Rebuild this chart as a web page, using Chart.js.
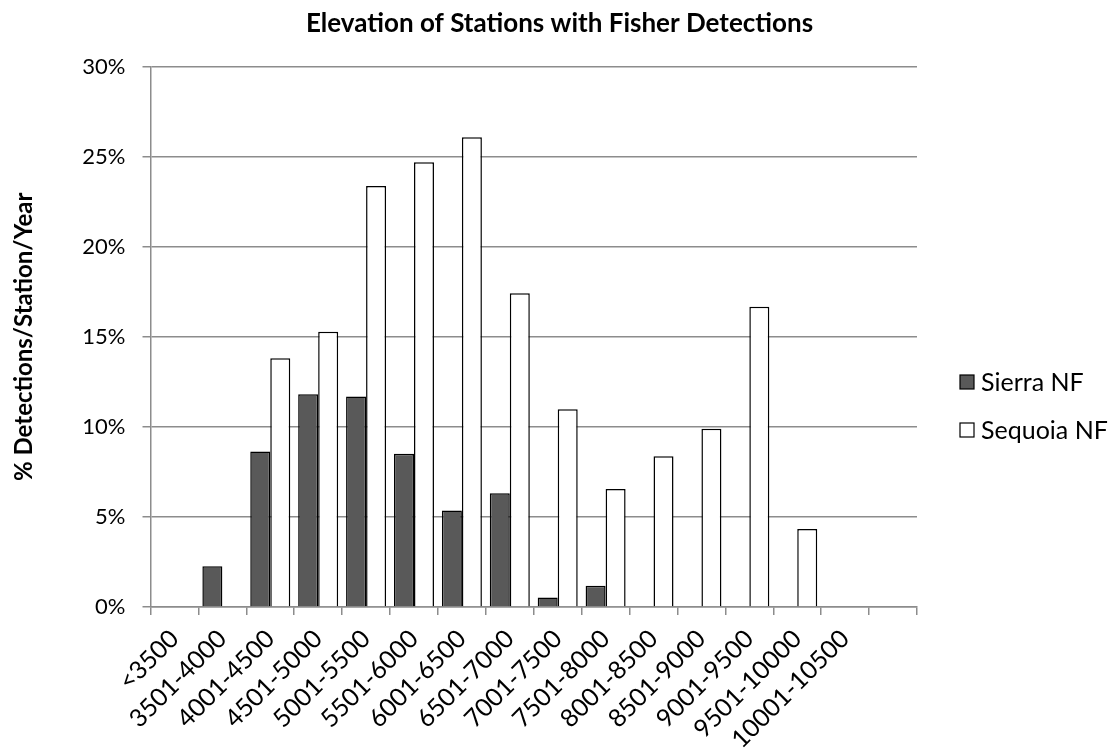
<!DOCTYPE html>
<html>
<head>
<meta charset="utf-8">
<title>Elevation of Stations with Fisher Detections</title>
<script src="https://cdn.jsdelivr.net/npm/chart.js@4.4.1/dist/chart.umd.min.js"></script>
<style>
  html, body { margin: 0; padding: 0; background: #ffffff; }
  #wrap { width: 1117px; height: 752px; position: relative; }
</style>
</head>
<body>
<div id="wrap"><canvas id="chart"></canvas></div>
<script>
// Elevation bands (feet); the final slot is an empty band at the right end of the axis
const elevationBands = [
  '<3500', '3501-4000', '4001-4500', '4501-5000', '5001-5500', '5501-6000',
  '6001-6500', '6501-7000', '7001-7500', '7501-8000', '8001-8500', '8501-9000',
  '9001-9500', '9501-10000', '10001-10500', ''
];

// % detections / station / year
const sierraNF  = [null, 2.26, 8.63, 11.81, 11.68, 8.50, 5.35, 6.31, 0.53, 1.18, null, null, null, null, null, null];
const sequoiaNF = [null, null, 13.80, 15.28, 23.37, 24.68, 26.07, 17.42, 10.98, 6.55, 8.37, 9.89, 16.67, 4.33, null, null];

const seriesNames = ['Sierra NF', 'Sequoia NF'];
const yTickValues = [0, 5, 10, 15, 20, 25, 30];

const chartTitle = 'Elevation of Stations with Fisher Detections';
const yAxisTitle = '% Detections/Station/Year';

const FONT = 'Lato, "Liberation Sans", sans-serif';
const GRID = '#8c8c8c';

// Title centred over the whole canvas, legend to the right of the plot
const decorations = {
  id: 'decorations',
  afterDraw(chart) {
    const { ctx, chartArea } = chart;
    ctx.save();
    ctx.fillStyle = '#000';
    ctx.font = 'bold 26px ' + FONT;
    ctx.textAlign = 'center';
    ctx.textBaseline = 'middle';
    ctx.fillText(chartTitle, chart.width / 2 + 1, 24);

    ctx.font = '25px ' + FONT;
    ctx.textAlign = 'left';
    const x0 = chartArea.right + 43;
    const rows = [382, 430];
    chart.data.datasets.forEach((ds, i) => {
      const y = rows[i];
      ctx.fillStyle = ds.backgroundColor;
      ctx.fillRect(x0, y - 7, 14, 14);
      ctx.lineWidth = 1.2;
      ctx.strokeStyle = '#000';
      ctx.strokeRect(x0, y - 7, 14, 14);
      ctx.fillStyle = '#000';
      ctx.fillText(ds.label, x0 + 21, y + 1);
    });
    ctx.restore();
  }
};

new Chart(document.getElementById('chart'), {
  type: 'bar',
  data: {
    labels: elevationBands,
    datasets: [
      { label: seriesNames[0], data: sierraNF,  backgroundColor: '#595959', borderColor: '#000', borderWidth: 1.5 },
      { label: seriesNames[1], data: sequoiaNF, backgroundColor: '#ffffff', borderColor: '#000', borderWidth: 1.5 }
    ]
  },
  options: {
    responsive: true,
    maintainAspectRatio: false,
    animation: false,
    layout: { padding: { top: 66.5, right: 200, left: 0, bottom: 0 } },
    datasets: { bar: { categoryPercentage: 0.835, barPercentage: 1.0 } },
    plugins: {
      legend: { display: false },
      title: { display: false },
      tooltip: { enabled: false }
    },
    scales: {
      x: {
        offset: true,
        grid: { display: true, drawOnChartArea: false, drawTicks: true, tickLength: 8, color: GRID, lineWidth: 1.5, offset: true },
        border: { display: true, color: GRID, width: 1.5 },
        ticks: {
          autoSkip: false, maxRotation: 45, minRotation: 45, padding: 9,
          color: '#000', font: { family: FONT, size: 25 }
        },
        afterFit(scale) { scale.height = 145; }
      },
      y: {
        min: 0, max: 30,
        afterBuildTicks(scale) { scale.ticks = yTickValues.map(v => ({ value: v })); },
        grid: { color: GRID, lineWidth: 1.5, tickLength: 8, drawTicks: true },
        border: { display: true, color: GRID, width: 1.5 },
        ticks: {
          padding: 17, color: '#000', font: { family: FONT, size: 22 },
          callback: v => v + '%'
        },
        title: {
          display: true, text: yAxisTitle, color: '#000',
          font: { family: FONT, size: 24, weight: 'bold' },
          padding: { top: 10, bottom: 0 }
        },
        afterFit(scale) { scale.width = 150.5; }
      }
    }
  },
  plugins: [decorations]
});
</script>
</body>
</html>
